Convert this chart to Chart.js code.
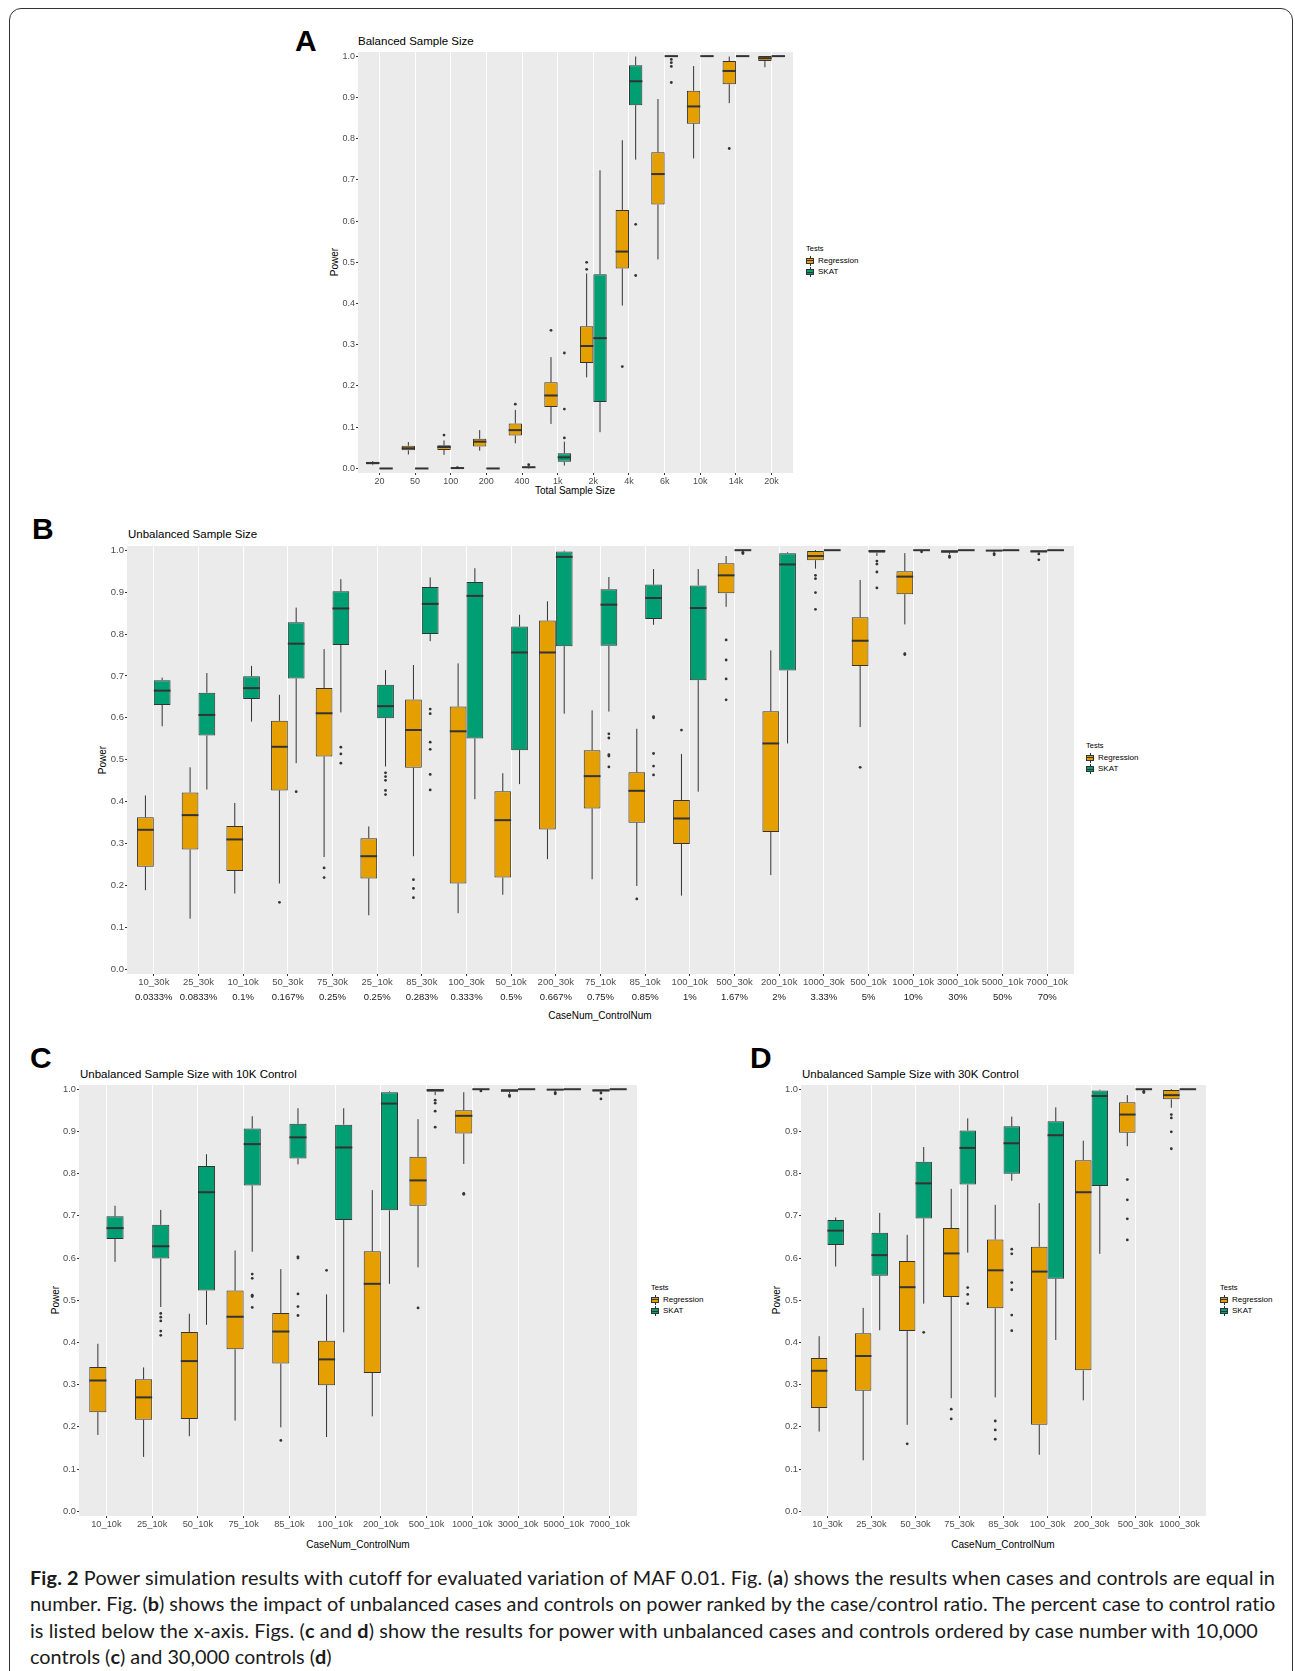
<!DOCTYPE html>
<html>
<head>
<meta charset="utf-8">
<script src="https://cdn.jsdelivr.net/npm/chart.js@4.4.1/dist/chart.umd.min.js"></script>
<style>
  body { margin: 0; background: #fff; }
  #fig { position: relative; width: 1295px; height: 1671px; overflow: hidden; font-family: "Liberation Sans", Arial, sans-serif; color: #000; }
  .frame { position: absolute; left: 9px; top: 8px; width: 1282px; height: 1680px; border: 1px solid #333; border-radius: 12px; }
  .t { position: absolute; white-space: nowrap; line-height: 1; transform: translateY(-50%); }
  .c { transform: translate(-50%, -50%); }
  .rot { transform: translate(-50%, -50%) rotate(-90deg); }
  .letter { font-weight: bold; font-size: 30px; }
  .ptitle { font-size: 11.5px; }
  .atitle { font-size: 10px; }
  .leg { position: absolute; font-size: 8px; line-height: 1; }
  .leg .row { position: absolute; left: 0; white-space: nowrap; transform: translateY(-50%); }
  .key { position: absolute; width: 8px; height: 10px; transform: translateY(-50%); }
  .key i { position: absolute; display: block; }
  .caption { position: absolute; left: 30px; white-space: nowrap; line-height: 1; transform: translateY(-50%); font-family: Lato, "Open Sans", sans-serif; color: #1a1a1a; }
  canvas { position: absolute; }
</style>
</head>
<body>
<div id="fig">
  <div class="frame"></div>

  <div class="t letter" style="left:295px;top:41px">A</div>
  <div class="t letter" style="left:32px;top:529px">B</div>
  <div class="t letter" style="left:30px;top:1058px">C</div>
  <div class="t letter" style="left:750px;top:1058px">D</div>

  <div class="t ptitle" style="left:358px;top:42px">Balanced Sample Size</div>
  <div class="t ptitle" style="left:128px;top:535px">Unbalanced Sample Size</div>
  <div class="t ptitle" style="left:80px;top:1075px">Unbalanced Sample Size with 10K Control</div>
  <div class="t ptitle" style="left:802px;top:1075px">Unbalanced Sample Size with 30K Control</div>

  <div class="t atitle c" style="left:575px;top:491px">Total Sample Size</div>
  <div class="t atitle c" style="left:600px;top:1016px">CaseNum_ControlNum</div>
  <div class="t atitle c" style="left:358px;top:1545px">CaseNum_ControlNum</div>
  <div class="t atitle c" style="left:1003px;top:1545px">CaseNum_ControlNum</div>

  <div class="t atitle rot" style="left:335px;top:262px">Power</div>
  <div class="t atitle rot" style="left:103px;top:760px">Power</div>
  <div class="t atitle rot" style="left:56px;top:1300px">Power</div>
  <div class="t atitle rot" style="left:777px;top:1300px">Power</div>

  <div class="caption" style="top:1578px"><b>Fig. 2</b> Power simulation results with cutoff for evaluated variation of MAF 0.01. Fig. (<b>a</b>) shows the results when cases and controls are equal in</div>
  <div class="caption" style="top:1604px">number. Fig. (<b>b</b>) shows the impact of unbalanced cases and controls on power ranked by the case/control ratio. The percent case to control ratio</div>
  <div class="caption" style="top:1631px">is listed below the x-axis. Figs. (<b>c</b> and <b>d</b>) show the results for power with unbalanced cases and controls ordered by case number with 10,000</div>
  <div class="caption" style="top:1657px">controls (<b>c</b>) and 30,000 controls (<b>d</b>)</div>
</div>

<script>
// ---- Panel A: balanced sample size
const catsA = ['20', '50', '100', '200', '400', '1k', '2k', '4k', '6k', '10k', '14k', '20k'];
const regA_lo  = [0.008, 0.034, 0.033, 0.043, 0.061, 0.108, 0.221, 0.395, 0.507, 0.752, 0.886, 0.973];
const regA_q1  = [0.010, 0.044, 0.045, 0.053, 0.080, 0.149, 0.256, 0.485, 0.640, 0.836, 0.932, 0.988];
const regA_med = [0.013, 0.049, 0.052, 0.065, 0.093, 0.177, 0.297, 0.526, 0.714, 0.878, 0.964, 0.995];
const regA_q3  = [0.016, 0.055, 0.056, 0.072, 0.109, 0.209, 0.345, 0.627, 0.767, 0.916, 0.988, 1.000];
const regA_hi  = [0.018, 0.064, 0.068, 0.093, 0.142, 0.270, 0.473, 0.796, 0.896, 0.976, 0.999, 1.000];
const regA_out = [[], [], [0.081], [], [0.156], [0.335], [0.483, 0.500], [0.247], [], [], [0.776], []];
const skatA_lo  = [0, 0, 0, 0, 0.000, 0.007, 0.088, 0.749, 0.998, 1, 1, 1];
const skatA_q1  = [0, 0, 0, 0, 0.001, 0.016, 0.161, 0.881, 0.999, 1, 1, 1];
const skatA_med = [0, 0, 0.001, 0, 0.003, 0.027, 0.316, 0.939, 1, 1, 1, 1];
const skatA_q3  = [0, 0, 0.001, 0.001, 0.004, 0.037, 0.471, 0.978, 1, 1, 1, 1];
const skatA_hi  = [0, 0.001, 0.001, 0.001, 0.005, 0.065, 0.723, 0.999, 1, 1, 1, 1];
const skatA_out = [[], [], [0.002], [], [0.009], [0.074, 0.144, 0.280], [], [0.592, 0.468], [0.992, 0.984, 0.975, 0.936], [], [], []];

// ---- Panel B: unbalanced, ranked by case/control ratio (C and D reuse these)
const catsB = ['10_30k', '25_30k', '10_10k', '50_30k', '75_30k', '25_10k', '85_30k', '100_30k', '50_10k', '200_30k', '75_10k',
  '85_10k', '100_10k', '500_30k', '200_10k', '1000_30k', '500_10k', '1000_10k', '3000_10k', '5000_10k', '7000_10k'];
const pctB = ['0.0333%', '0.0833%', '0.1%', '0.167%', '0.25%', '0.25%', '0.283%', '0.333%', '0.5%', '0.667%', '0.75%',
  '0.85%', '1%', '1.67%', '2%', '3.33%', '5%', '10%', '30%', '50%', '70%'];
const regB_lo  = [0.189, 0.121, 0.181, 0.205, 0.268, 0.129, 0.270, 0.134, 0.178, 0.263, 0.215, 0.199, 0.176, 0.865, 0.225, 0.956, 0.578, 0.823, 0.990, 0.995, 0.990];
const regB_q1  = [0.245, 0.286, 0.235, 0.427, 0.508, 0.217, 0.481, 0.205, 0.219, 0.334, 0.384, 0.350, 0.299, 0.897, 0.328, 0.976, 0.724, 0.895, 0.994, 0.998, 0.995];
const regB_med = [0.333, 0.368, 0.310, 0.531, 0.611, 0.270, 0.571, 0.568, 0.356, 0.756, 0.461, 0.426, 0.360, 0.940, 0.539, 0.986, 0.784, 0.937, 0.997, 0.999, 0.997];
const regB_q3  = [0.363, 0.422, 0.342, 0.593, 0.671, 0.313, 0.644, 0.627, 0.425, 0.832, 0.523, 0.470, 0.404, 0.969, 0.616, 0.998, 0.840, 0.950, 1.000, 1.000, 1.000];
const regB_hi  = [0.415, 0.482, 0.397, 0.655, 0.764, 0.341, 0.726, 0.730, 0.468, 0.878, 0.618, 0.574, 0.514, 0.986, 0.761, 1.000, 0.929, 0.993, 1.000, 1.000, 1.000];
const regB_out = [[], [], [], [0.160], [0.242, 0.219], [], [0.214, 0.193, 0.171], [], [], [], [], [0.168], [0.571],
  [0.786, 0.738, 0.693, 0.643], [], [0.940, 0.932, 0.899, 0.859], [0.482], [0.753, 0.751], [0.986, 0.983], [0.992, 0.989], [0.991, 0.977]];
const skatB_lo  = [0.580, 0.429, 0.591, 0.492, 0.613, 0.484, 0.783, 0.406, 0.442, 0.610, 0.615, 0.822, 0.424, 0.999, 0.539, 1, 0.986, 0.999, 1, 1, 1];
const skatB_q1  = [0.631, 0.558, 0.645, 0.694, 0.774, 0.599, 0.800, 0.551, 0.523, 0.771, 0.772, 0.836, 0.690, 1.000, 0.713, 1, 0.994, 1, 1, 1, 1];
const skatB_med = [0.665, 0.607, 0.671, 0.777, 0.861, 0.628, 0.872, 0.891, 0.756, 0.984, 0.870, 0.886, 0.862, 1.000, 0.966, 1, 0.998, 1, 1, 1, 1];
const skatB_q3  = [0.690, 0.660, 0.699, 0.828, 0.902, 0.679, 0.912, 0.924, 0.818, 0.997, 0.907, 0.918, 0.916, 1.000, 0.993, 1, 1.000, 1, 1, 1, 1];
const skatB_hi  = [0.696, 0.707, 0.724, 0.863, 0.931, 0.714, 0.935, 0.957, 0.846, 0.999, 0.936, 0.955, 0.955, 1.000, 0.995, 1, 1, 1, 1, 1, 1];
const skatB_out = [[], [], [], [0.424], [0.530, 0.514, 0.492], [0.469, 0.460, 0.451, 0.427, 0.417], [0.621, 0.610, 0.542, 0.525, 0.465, 0.428],
  [], [], [], [0.562, 0.552, 0.512, 0.509, 0.483], [0.603, 0.600, 0.515, 0.485, 0.464], [], [0.995, 0.992], [], [],
  [0.974, 0.967, 0.948, 0.910], [0.996], [], [], []];

// ---- Panels C and D: subsets of B
const catsC = ['10_10k', '25_10k', '50_10k', '75_10k', '85_10k', '100_10k', '200_10k', '500_10k', '1000_10k', '3000_10k', '5000_10k', '7000_10k'];
const catsD = ['10_30k', '25_30k', '50_30k', '75_30k', '85_30k', '100_30k', '200_30k', '500_30k', '1000_30k'];

const yTicks = [0, 0.1, 0.2, 0.3, 0.4, 0.5, 0.6, 0.7, 0.8, 0.9, 1.0];
const testNames = ['Regression', 'SKAT'];

const ORANGE = '#E69F00', GREEN = '#009E73', INK = '#333333', PANEL = '#EBEBEB';
const FONT = '"Liberation Sans", Arial, sans-serif';
const fig = document.getElementById('fig');

function pick(arr, cats) {
    return cats.map(c => arr[catsB.indexOf(c)]);
}

function boxes(lo, q1, med, q3, hi) {
    return q1.map((v, i) => ({ x: i + 1, y: [v, q3[i]], lo: lo[i], med: med[i], hi: hi[i] }));
}

function outliers(out, shift) {
    const pts = [];
    out.forEach((vals, i) => vals.forEach(v => pts.push({ x: i + 1 + shift, y: v })));
    return pts;
}

// grey panel, whiskers and medians drawn through the chart's own scales
const boxPlugin = {
    id: 'ggbox',
    beforeDraw(chart) {
        const a = chart.chartArea, ctx = chart.ctx;
        ctx.save();
        ctx.fillStyle = PANEL;
        ctx.fillRect(a.left, a.top, a.right - a.left, a.bottom - a.top);
        ctx.restore();
    },
    afterDatasetsDraw(chart) {
        const ctx = chart.ctx, y = chart.scales.y;
        ctx.save();
        ctx.strokeStyle = INK;
        chart.data.datasets.forEach((ds, di) => {
            if (ds.type === 'scatter') return;
            chart.getDatasetMeta(di).data.forEach((bar, i) => {
                const d = ds.data[i];
                ctx.lineWidth = 1;
                ctx.beginPath();
                ctx.moveTo(bar.x, y.getPixelForValue(d.y[1]));
                ctx.lineTo(bar.x, y.getPixelForValue(d.hi));
                ctx.moveTo(bar.x, y.getPixelForValue(d.y[0]));
                ctx.lineTo(bar.x, y.getPixelForValue(d.lo));
                ctx.stroke();
                ctx.lineWidth = 2;
                ctx.beginPath();
                ctx.moveTo(bar.x - bar.width / 2, y.getPixelForValue(d.med));
                ctx.lineTo(bar.x + bar.width / 2, y.getPixelForValue(d.med));
                ctx.stroke();
            });
        });
        ctx.restore();
    }
};

function legend(left, top) {
    const el = document.createElement('div');
    el.className = 'leg';
    el.style.left = left + 'px';
    el.style.top = top + 'px';
    let html = '<div class="row" style="top:0;font-size:7.5px">Tests</div>';
    [ORANGE, GREEN].forEach((col, k) => {
        const ty = 11.5 * (k + 1);
        html += `<span class="key" style="left:0;top:${ty}px">
            <i style="left:3.5px;top:0;width:1px;height:10px;background:${INK}"></i>
            <i style="left:0;top:2px;width:6px;height:4px;border:1px solid ${INK};background:${col}"></i>
            <i style="left:0;top:4.5px;width:8px;height:1.2px;background:${INK}"></i></span>
            <div class="row" style="left:12px;top:${ty}px">${testNames[k]}</div>`;
    });
    el.innerHTML = html;
    fig.appendChild(el);
}

function drawPanel(cfg) {
    const pt = 10, pr = 6;
    const n = cfg.cats.length;
    const cv = document.createElement('canvas');
    cv.width = cfg.R - cfg.L + cfg.yw + pr;
    cv.height = cfg.B - cfg.T + pt + cfg.xh + (cfg.pct ? cfg.x2h : 0);
    cv.style.left = (cfg.L - cfg.yw) + 'px';
    cv.style.top = (cfg.T - pt) + 'px';
    fig.appendChild(cv);

    const catTicks = s => { s.ticks = cfg.cats.map((c, i) => ({ value: i + 1 })); };
    const tickFont = { family: FONT, size: cfg.fs };
    const scales = {
        x: {
            type: 'linear', min: 0.4, max: n + 0.6, offset: false, weight: 0,
            afterBuildTicks: catTicks,
            afterFit: s => { s.height = cfg.xh; },
            grid: { color: '#ffffff', lineWidth: 1, offset: false, tickColor: INK, tickLength: 2 },
            border: { display: false },
            ticks: { autoSkip: false, maxRotation: 0, padding: 1, color: '#4D4D4D', font: tickFont, callback: v => cfg.cats[v - 1] }
        },
        y: {
            min: -0.011, max: 1.01,
            afterBuildTicks: s => { s.ticks = yTicks.map(v => ({ value: v })); },
            afterFit: s => { s.width = cfg.yw; },
            grid: { drawOnChartArea: false, tickColor: INK, tickLength: 2 },
            border: { display: false },
            ticks: { padding: 1, color: '#4D4D4D', font: tickFont, callback: v => v.toFixed(1) }
        }
    };
    if (cfg.pct) {
        scales.x2 = {
            type: 'linear', position: 'bottom', min: 0.4, max: n + 0.6, offset: false, weight: 1,
            afterBuildTicks: catTicks,
            afterFit: s => { s.height = cfg.x2h; },
            grid: { display: false, drawTicks: false },
            border: { display: false },
            ticks: { autoSkip: false, maxRotation: 0, padding: 2, color: '#1a1a1a', font: tickFont, callback: v => cfg.pct[v - 1] }
        };
    }

    new Chart(cv, {
        type: 'bar',
        data: {
            datasets: [
                { label: 'Regression', data: boxes(cfg.reg.lo, cfg.reg.q1, cfg.reg.med, cfg.reg.q3, cfg.reg.hi),
                  backgroundColor: ORANGE, borderColor: INK, borderWidth: 1, borderSkipped: false,
                  categoryPercentage: 0.75, barPercentage: 1 },
                { label: 'SKAT', data: boxes(cfg.skat.lo, cfg.skat.q1, cfg.skat.med, cfg.skat.q3, cfg.skat.hi),
                  backgroundColor: GREEN, borderColor: INK, borderWidth: 1, borderSkipped: false,
                  categoryPercentage: 0.75, barPercentage: 1 },
                { type: 'scatter', data: outliers(cfg.reg.out, -0.1875), pointRadius: 1.4, backgroundColor: INK, borderWidth: 0 },
                { type: 'scatter', data: outliers(cfg.skat.out, 0.1875), pointRadius: 1.4, backgroundColor: INK, borderWidth: 0 }
            ]
        },
        options: {
            responsive: false,
            animation: false,
            layout: { padding: { top: pt, right: pr, left: 0, bottom: 0 } },
            plugins: { legend: { display: false }, tooltip: { enabled: false } },
            scales
        },
        plugins: [boxPlugin]
    });
    legend(cfg.legX, cfg.legY);
}

function subset(cats) {
    return {
        reg: { lo: pick(regB_lo, cats), q1: pick(regB_q1, cats), med: pick(regB_med, cats), q3: pick(regB_q3, cats), hi: pick(regB_hi, cats), out: pick(regB_out, cats) },
        skat: { lo: pick(skatB_lo, cats), q1: pick(skatB_q1, cats), med: pick(skatB_med, cats), q3: pick(skatB_q3, cats), hi: pick(skatB_hi, cats), out: pick(skatB_out, cats) }
    };
}

drawPanel({
    cats: catsA, L: 358, T: 52, R: 793, B: 473, yw: 30, xh: 14, fs: 9, legX: 806, legY: 249,
    reg: { lo: regA_lo, q1: regA_q1, med: regA_med, q3: regA_q3, hi: regA_hi, out: regA_out },
    skat: { lo: skatA_lo, q1: skatA_q1, med: skatA_med, q3: skatA_q3, hi: skatA_hi, out: skatA_out }
});
drawPanel(Object.assign({
    cats: catsB, pct: pctB, L: 127, T: 546, R: 1074, B: 974, yw: 30, xh: 16, x2h: 16, fs: 9.5, legX: 1086, legY: 746
}, subset(catsB)));
drawPanel(Object.assign({
    cats: catsC, L: 79, T: 1085, R: 637, B: 1516, yw: 30, xh: 14, fs: 9.3, legX: 651, legY: 1288
}, subset(catsC)));
drawPanel(Object.assign({
    cats: catsD, L: 801, T: 1085, R: 1206, B: 1516, yw: 30, xh: 14, fs: 9.3, legX: 1220, legY: 1288
}, subset(catsD)));

// fit the caption: size from the longest line, then small per-line spacing to match each original line end
const capLines = document.querySelectorAll('.caption');
const capWidths = [1245, 1246, 1228];
capLines.forEach(c => { c.style.fontSize = '20px'; });
const size = 20 * capWidths[1] / capLines[1].getBoundingClientRect().width;
capLines.forEach(c => { c.style.fontSize = size.toFixed(2) + 'px'; });
capWidths.forEach((w, i) => {
    const line = capLines[i];
    const extra = w - line.getBoundingClientRect().width;
    line.style.letterSpacing = (extra / line.textContent.length).toFixed(3) + 'px';
});
</script>
</body>
</html>
